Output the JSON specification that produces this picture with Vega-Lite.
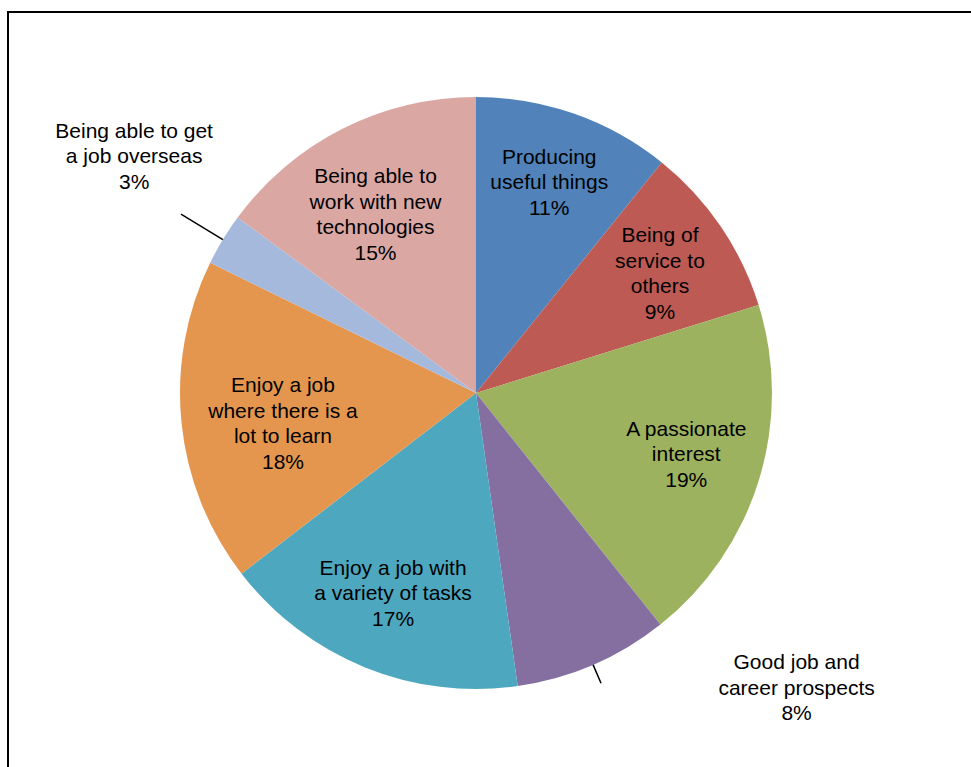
{
  "$schema": "https://vega.github.io/schema/vega-lite/v6.json",
  "width": 975,
  "height": 770,
  "autosize": {"type": "none"},
  "padding": {"left": 8, "top": 12, "right": -12, "bottom": -15},
  "background": "white",
  "config": {
    "view": {"stroke": "black", "strokeWidth": 2},
    "text": {"font": "Liberation Sans"}
  },
  "data": {
    "values": [
      {"name": "Producing\nuseful things", "value": 10.8},
      {"name": "Being of\nservice to\nothers", "value": 9.4},
      {"name": "A passionate\ninterest", "value": 19.1},
      {"name": "Good job and\ncareer prospects", "value": 8.45},
      {"name": "Enjoy a job with\na variety of tasks", "value": 16.8},
      {"name": "Enjoy a job\nwhere there is a\nlot to learn", "value": 17.7},
      {"name": "Being able to get\na job overseas", "value": 2.85},
      {"name": "Being able to\nwork with new\ntechnologies", "value": 14.9}
    ]
  },
  "transform": [
    {"window": [{"op": "row_number", "as": "rank"}]},
    {"stack": "value", "groupby": [], "sort": [{"field": "rank", "order": "ascending"}], "as": ["v0", "v1"]},
    {"calculate": "(datum.v0 + datum.v1) / 2", "as": "mid"},
    {"calculate": "datum.name + '\\n' + format(datum.value / 100, '.0%')", "as": "label"}
  ],
  "encoding": {
    "x": {"value": 468},
    "y": {"value": 381}
  },
  "layer": [
    {
      "mark": {"type": "arc", "outerRadius": 296},
      "encoding": {
        "theta": {"field": "v0", "type": "quantitative", "scale": {"domain": [0, 100]}},
        "theta2": {"field": "v1"},
        "color": {
          "field": "name",
          "type": "nominal",
          "sort": {"field": "rank", "op": "min"},
          "scale": {"range": ["#5183BA", "#BE5A54", "#9DB25E", "#856FA0", "#4DA8BF", "#E4964E", "#A5B9DC", "#DAA7A3"]},
          "legend": null
        }
      }
    },
    {
      "transform": [{"filter": "datum.rank == 7"}],
      "mark": {"type": "arc", "innerRadius": 296, "outerRadius": 345, "stroke": "black", "strokeWidth": 1.5, "fill": "transparent"},
      "encoding": {
        "theta": {"field": "mid", "type": "quantitative", "scale": {"domain": [0, 100]}},
        "theta2": {"field": "mid"}
      }
    },
    {
      "transform": [{"filter": "datum.rank == 4"}],
      "mark": {"type": "arc", "innerRadius": 296, "outerRadius": 316, "stroke": "black", "strokeWidth": 1.5, "fill": "transparent"},
      "encoding": {
        "theta": {"field": "mid", "type": "quantitative", "scale": {"domain": [0, 100]}},
        "theta2": {"field": "mid"}
      }
    },
    {
      "transform": [{"filter": "datum.rank == 1 || datum.rank == 3 || datum.rank == 5"}],
      "mark": {"type": "text", "radius": 220, "dy": -28, "fontSize": 21, "lineHeight": 25.5, "lineBreak": "\n", "align": "center", "baseline": "middle", "color": "black"},
      "encoding": {
        "theta": {"field": "mid", "type": "quantitative", "scale": {"domain": [0, 100]}},
        "text": {"field": "label"}
      }
    },
    {
      "transform": [{"filter": "datum.rank == 2"}],
      "mark": {"type": "text", "radius": 220, "dx": 2, "dy": -33, "fontSize": 21, "lineHeight": 25.5, "lineBreak": "\n", "align": "center", "baseline": "middle", "color": "black"},
      "encoding": {
        "theta": {"field": "mid", "type": "quantitative", "scale": {"domain": [0, 100]}},
        "text": {"field": "label"}
      }
    },
    {
      "transform": [{"filter": "datum.rank == 6"}],
      "mark": {"type": "text", "radius": 194, "dy": -26, "fontSize": 21, "lineHeight": 25.5, "lineBreak": "\n", "align": "center", "baseline": "middle", "color": "black"},
      "encoding": {
        "theta": {"field": "mid", "type": "quantitative", "scale": {"domain": [0, 100]}},
        "text": {"field": "label"}
      }
    },
    {
      "transform": [{"filter": "datum.rank == 8"}],
      "mark": {"type": "text", "radius": 205, "dx": -8, "dy": -33, "fontSize": 21, "lineHeight": 25.5, "lineBreak": "\n", "align": "center", "baseline": "middle", "color": "black"},
      "encoding": {
        "theta": {"field": "mid", "type": "quantitative", "scale": {"domain": [0, 100]}},
        "text": {"field": "label"}
      }
    },
    {
      "transform": [{"filter": "datum.rank == 7"}],
      "mark": {"type": "text", "radius": 415, "dx": 13, "dy": -46, "fontSize": 21, "lineHeight": 25.5, "lineBreak": "\n", "align": "center", "baseline": "middle", "color": "black"},
      "encoding": {
        "theta": {"field": "mid", "type": "quantitative", "scale": {"domain": [0, 100]}},
        "text": {"field": "label"}
      }
    },
    {
      "transform": [{"filter": "datum.rank == 4"}],
      "mark": {"type": "text", "radius": 330, "dx": 190, "dy": -33, "fontSize": 21, "lineHeight": 25.5, "lineBreak": "\n", "align": "center", "baseline": "middle", "color": "black"},
      "encoding": {
        "theta": {"field": "mid", "type": "quantitative", "scale": {"domain": [0, 100]}},
        "text": {"field": "label"}
      }
    }
  ]
}
